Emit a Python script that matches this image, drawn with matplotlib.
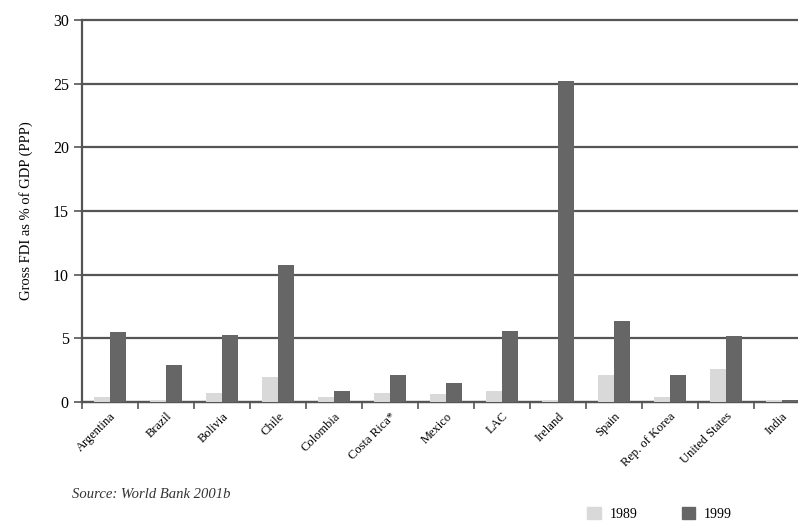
import numpy as np
import matplotlib.pyplot as plt
from matplotlib.patches import Patch

countries = ['Argentina', 'Brazil', 'Bolivia', 'Chile', 'Colombia', 'Costa Rica*',
             'Mexico', 'LAC', 'Ireland', 'Spain', 'Rep. of Korea', 'United States', 'India']
fdi_1989 = [0.4, 0.1, 0.7, 2.0, 0.4, 0.7, 0.6, 0.9, 0.1, 2.1, 0.4, 2.6, 0.05]
fdi_1999 = [5.5, 2.9, 5.3, 10.8, 0.85, 2.1, 1.5, 5.6, 25.2, 6.4, 2.1, 5.2, 0.2]

plt.rcParams['font.family'] = ['Liberation Serif', 'DejaVu Serif']

fig = plt.figure(figsize=(7.98, 5.27), dpi=100)
ax = fig.add_axes([0.1028, 0.237, 0.8972, 0.725])

x = np.arange(len(countries))
w = 0.29
ax.bar(x - w / 2, fdi_1989, w, color='#d9d9d9', zorder=3)
ax.bar(x + w / 2, fdi_1999, w, color='#666666', zorder=3)

ax.set_ylim(0, 30)
ax.set_xlim(-0.5, 12.29)
ax.set_yticks(range(0, 31, 5))
ax.yaxis.grid(True, color='#555555', linewidth=1.6, zorder=0)
for gl in ax.get_ygridlines():
    gl.set_clip_on(False)
ax.tick_params(axis='y', labelsize=11.5, length=6, width=1.2, color='#555555')

ax.set_xticks(x - 0.5, minor=False)
ax.set_xticklabels([])
ax.tick_params(axis='x', length=5, width=1.2, color='#555555')
ax.set_xticks(x, minor=True)
ax.set_xticklabels(countries, minor=True, rotation=45, ha='right', rotation_mode='anchor',
                   fontsize=9)
ax.tick_params(axis='x', which='minor', length=0, pad=6)

for s in ['top', 'right']:
    ax.spines[s].set_visible(False)
for s in ['left', 'bottom']:
    ax.spines[s].set_color('#555555')
    ax.spines[s].set_linewidth(1.6)

ax.set_ylabel('Gross FDI as % of GDP (PPP)', fontsize=10.5, labelpad=14)

fig.text(0.09, 0.055, 'Source: World Bank 2001b', fontsize=10.5, style='italic', color='#333333')

handles = [Patch(color='#d9d9d9', label='1989'), Patch(color='#666666', label='1999')]
fig.legend(handles=handles, loc='lower left', bbox_to_anchor=(0.72, -0.012), ncol=2,
           frameon=False, handlelength=1.0, handleheight=1.0, columnspacing=3.2,
           handletextpad=0.6, fontsize=10)

fig.savefig('out.png', dpi=100)
